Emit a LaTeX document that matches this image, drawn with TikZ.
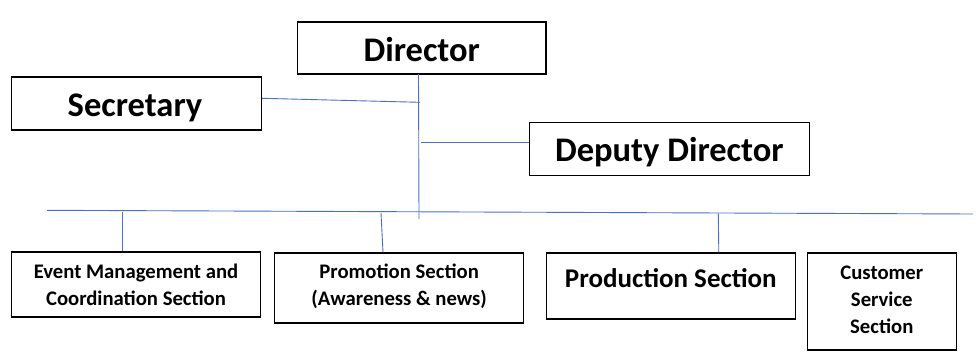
\documentclass[tikz,border=0pt]{standalone}
\usepackage{fontspec}
\setmainfont{Carlito}
\begin{document}
\begin{tikzpicture}[x=1pt,y=-1pt,
  box/.style={draw=black,line width=1.2pt,inner sep=0pt},
  big/.style={font=\bfseries\fontsize{34.5}{40}\selectfont,anchor=base,inner sep=0pt},
  mid/.style={font=\bfseries\fontsize{27}{32}\selectfont},
  small/.style={font=\bfseries\fontsize{20.7}{27}\selectfont,align=center},
]
\definecolor{lineblue}{HTML}{4472C4}
\tikzset{conn/.style={draw=lineblue,line width=0.9pt}}
\useasboundingbox (0,0) rectangle (979,356);

% boxes
\node[box,minimum width=248.5,minimum height=52] (dir) at (421.75,48) {};
\node[big] (dirt) at (421.75,61.5) {Director};
\node[box,minimum width=249.5,minimum height=53] (sec) at (136.5,103.5) {};
\node[big] (sect) at (135,116.5) {Secretary};
\node[box,minimum width=280,minimum height=53] (dep) at (669.3,148.8) {};
\node[big] (dept) at (669.3,161.5) {Deputy Director};

\node[box,minimum width=248.6,minimum height=65] (evt) at (136,284.5) {};
\node[small] (evtt) at (evt.center) {Event Management and\\Coordination Section};
\node[box,minimum width=249.3,minimum height=70] (pro) at (399.15,288) {};
\node[small] (prot) at (399.15,286) {Promotion Section\\(Awareness \& news)};
\node[box,minimum width=249,minimum height=66] (prd) at (670.8,286) {};
\node[mid] (prdt) at (670.8,278) {Production Section};
\node[box,minimum width=149,minimum height=97] (cus) at (881.8,301.5) {};
\node[small] (cust) at (881.8,300) {Customer\\Service\\Section};

% connector points
\coordinate (ttop) at (418.5,74);
\coordinate (tbot) at (419,219);
\coordinate (tsec) at (420,102.3);
\coordinate (tdep) at (421,142.3);
\coordinate (hl) at (47,210.3);
\coordinate (hr) at (973,214);
\coordinate (d1) at (122,212);
\coordinate (d2) at (381,213);
\coordinate (d3) at (718.3,213.5);

\draw[conn] (ttop) -- (tbot);
\draw[conn] (sec.east |- 0,98.3) -- (tsec);
\draw[conn] (tdep) -- (dep.west |- tdep);
\draw[conn] (hl) -- (hr);
\draw[conn] (d1) -- (evt.north -| d1);
\draw[conn] (d2) -- (pro.north -| 383,0);
\draw[conn] (d3) -- (prd.north -| 718.8,0);
\end{tikzpicture}
\end{document}
